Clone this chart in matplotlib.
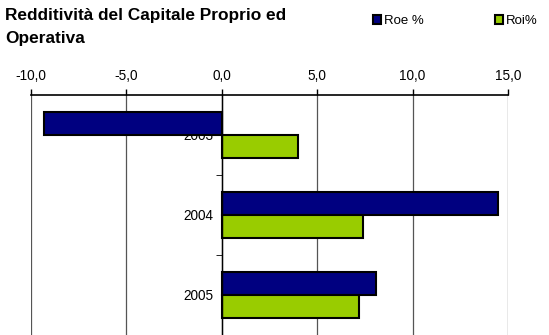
import matplotlib.pyplot as plt
from matplotlib.ticker import FuncFormatter
import numpy as np

plt.rcParams["font.family"] = ["Liberation Sans", "DejaVu Sans"]

years = ["2003", "2004", "2005"]
roe = [-9.3, 14.5, 8.1]
roi = [4.0, 7.4, 7.2]

navy = "#000080"
green = "#99CC00"

fig = plt.figure(figsize=(5.49, 3.35), dpi=100)
ax = fig.add_axes([30.5 / 549, 0.0, (508 - 30.5) / 549, 1 - 95 / 335])

y = np.arange(len(years))
h = 0.29
ax.set_axisbelow(True)
b1 = ax.barh(y - h / 2, roe, height=h, color=navy, edgecolor="black",
             linewidth=1.5, label="Roe %", zorder=2)
b2 = ax.barh(y + h / 2, roi, height=h, color=green, edgecolor="black",
             linewidth=1.5, label="Roi%", zorder=2)

ax.set_xlim(-10, 15)
ax.set_ylim(2.5, -0.5)

# x axis on top with comma decimals
ax.xaxis.tick_top()
ax.set_xticks([-10, -5, 0, 5, 10, 15])
ax.xaxis.set_major_formatter(FuncFormatter(lambda v, p: f"{v:.1f}".replace(".", ",")))
ax.tick_params(axis="x", direction="out", length=4, width=1, labelsize=9.8, pad=4.5)
ax.grid(axis="x", color="#555555", linewidth=0.9)

# y axis sits at zero
ax.spines["left"].set_position(("data", 0))
ax.spines["left"].set_linewidth(1)
ax.spines["right"].set_visible(False)
ax.spines["bottom"].set_visible(False)
ax.spines["top"].set_linewidth(1.2)
ax.set_yticks(y)
ax.set_yticklabels(years)
ax.set_yticks([0.5, 1.5], minor=True)
ax.tick_params(axis="y", which="major", length=0, labelsize=9.8, pad=6)
ax.tick_params(axis="y", which="minor", length=4, direction="out")
ax.set_facecolor("white")

fig.text(5 / 549, 1 - 8 / 335, "Redditività del Capitale Proprio ed\nOperativa",
         fontsize=12.4, fontweight="bold", va="top", ha="left", linespacing=1.7)

fig.legend(handles=[b1, b2], loc="center left", bbox_to_anchor=(366 / 549, 1 - 21 / 335),
           ncol=2, frameon=False, fontsize=9.5, handlelength=0.65, handleheight=0.65,
           handletextpad=0.2, columnspacing=5.4, borderpad=0)

fig.savefig("out.png", dpi=100)
